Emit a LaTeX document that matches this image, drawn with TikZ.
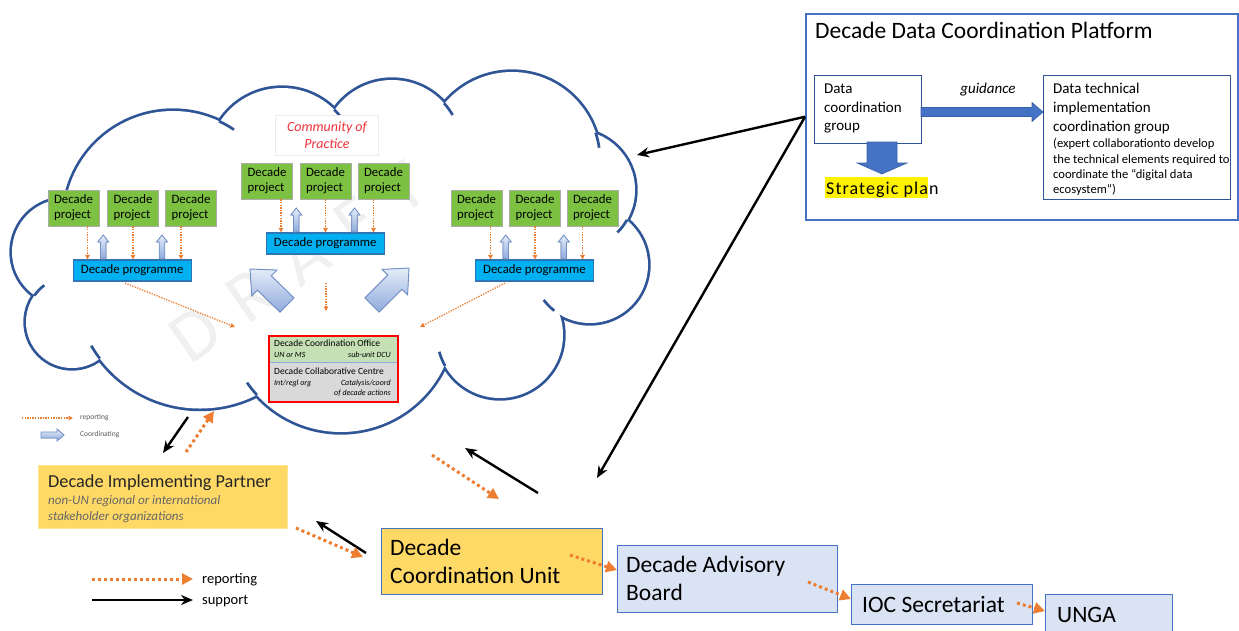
\documentclass[tikz,border=0pt]{standalone}
\usepackage{fontspec}
\setmainfont{Carlito}
\usetikzlibrary{arrows.meta,calc}
\definecolor{cloudblue}{HTML}{2F5597}
\definecolor{orng}{HTML}{ED7D31}
\definecolor{pgreen}{HTML}{7DC142}
\definecolor{pblue}{HTML}{00B0F0}
\definecolor{pblueedge}{HTML}{2E75B6}
\definecolor{gold}{HTML}{FFD966}
\definecolor{lblue}{HTML}{DAE3F3}
\definecolor{mblue}{HTML}{4472C4}
\definecolor{dcogreen}{HTML}{C5E0B4}
\definecolor{dcogrey}{HTML}{D9D9D9}
\definecolor{divblue}{HTML}{8EA9DB}
\definecolor{arrowfill}{HTML}{8FAADC}
\definecolor{arrowlight}{HTML}{E4ECF8}
\definecolor{arrowedge}{HTML}{6F8FC6}
\definecolor{copred}{HTML}{F0323A}
\newcommand\myfs[2]{\fontsize{#1}{#2}\selectfont}
% block arrow polygon from #1 to #2: shaft half width #3, head half width #4, head length #5, style #6
\newcommand\blockarr[6]{%
  \path let \p1=(#1), \p2=(#2) in \pgfextra{%
    \pgfmathsetmacro\baang{atan2(\y2-\y1,\x2-\x1)}%
    \pgfmathsetmacro\balen{veclen(\x2-\x1,\y2-\y1)}%
    \global\let\baangG\baang \global\let\balenG\balen};
  \begin{scope}[shift={(#1)},rotate=\baangG]
    \filldraw[#6] (0pt,-#3pt) -- ({\balenG pt-#5pt},-#3pt) -- ({\balenG pt-#5pt},-#4pt)
      -- (\balenG pt,0pt) -- ({\balenG pt-#5pt},#4pt) -- ({\balenG pt-#5pt},#3pt) -- (0pt,#3pt) -- cycle;
  \end{scope}}
% group of three projects and a programme
\newcommand\cgroup[6]{%
  \node[gbox] (#1a) at (#2,#5) {Decade\\project};
  \node[gbox] (#1b) at (#3,#5) {Decade\\project};
  \node[gbox] (#1c) at (#4,#5) {Decade\\project};
  \node[prog] (#1p) at ({(#2+#4)/2},#6) {Decade programme};
  \coordinate (#1d1) at ($(#1a.south)+(14,0)$);
  \coordinate (#1d2) at (#1b.south);
  \coordinate (#1d3) at ($(#1c.south)+(-10,0)$);
  \foreach \k in {1,2,3} {\draw[odots] (#1d\k) -- (#1d\k |- #1p.north);}
  \pgfmathsetmacro\gxA{(#2+#3)/2}\pgfmathsetmacro\gxB{(#3+#4)/2}%
  \pgfmathsetmacro\ybot{#6-11.5}\pgfmathsetmacro\ytop{#5+27}%
  \coordinate (#1u1s) at (\gxA,\ybot); \coordinate (#1u1e) at (\gxA,\ytop);
  \coordinate (#1u2s) at (\gxB,\ybot); \coordinate (#1u2e) at (\gxB,\ytop);
  \blockarr{#1u1s}{#1u1e}{2.8}{5.5}{7}{hollow}
  \blockarr{#1u2s}{#1u2e}{2.8}{5.5}{7}{hollow}
}
\begin{document}
\begin{tikzpicture}[x=1pt,y=-1pt,
  cloudline/.style={draw=cloudblue, line width=2.7pt},
  gbox/.style={draw=gray!65, line width=0.9pt, fill=pgreen, minimum width=51pt, minimum height=36pt, inner sep=0pt, align=left, font=\myfs{12.8}{14.8}},
  prog/.style={draw=pblueedge, line width=1.1pt, fill=pblue, minimum width=118pt, minimum height=21pt, inner sep=0pt, font=\myfs{12.8}{14}},
  odots/.style={draw=orng, line width=1.3pt, dash pattern=on 1.3pt off 1.3pt, -{Triangle[length=4.5pt,width=4.5pt]}},
  orep/.style={draw=orng, line width=3pt, dash pattern=on 3pt off 3pt, -{Triangle[length=11pt,width=11pt]}},
  sup/.style={draw=black, line width=2.4pt, -{Stealth[length=12pt,width=10pt]}},
  hollow/.style={draw=arrowedge, line width=0.8pt, top color=arrowlight, bottom color=arrowfill},
  bigarr/.style={draw=arrowedge, line width=0.9pt, top color=arrowlight, bottom color=arrowfill},
  lbox/.style={draw=mblue, line width=1.3pt, fill=lblue, anchor=north west, inner sep=0pt},
  bigtxt/.style={anchor=base west, font=\myfs{23.5}{27}, inner sep=0pt},
  dcotxt/.style={inner sep=0pt, font=\myfs{9.5}{11}},
  dcoit/.style={inner sep=0pt, font=\myfs{8}{10}\itshape},
  ]
\useasboundingbox (0,0) rectangle (1239,630);

% ---------- cloud ----------
\def\cloudlobes{65/252/53, 173/220/109, 282/162/74, 392/150/70, 512/160/88, 575/190/60, 590/265/58, 500/335/63, 341/318/114, 200/283/125.5, 72/322/46}
\foreach \cx/\cy/\r in \cloudlobes {\draw[cloudblue, line width=5.4pt] (\cx,\cy) circle[radius=\r];}
\foreach \cx/\cy/\r in \cloudlobes {\fill[white] (\cx,\cy) circle[radius=\r];}
\fill[white] (65,252) -- (173,220) -- (282,162) -- (392,150) -- (512,160) -- (575,190) -- (590,265) -- (500,335) -- (341,318) -- (200,283) -- (72,322) -- cycle;
\foreach \cx/\cy/\r/\a/\d in {65/252/53/271/16, 173/220/109/295/9, 282/162/74/315/12, 392/150/70/318/12, 512/160/88/342/10, 575/190/60/30/15, 590/265/58/128/15, 500/335/63/150.6/14, 341/318/114/137.5/8, 200/283/125.5/143/7, 72/322/46/215/18}
  {\draw[cloudline] ($(\cx,\cy)+(\a:\r)$) arc[start angle=\a, delta angle=\d, radius=\r];}

% watermark
\node[rotate=35, text=black!6, font={\myfs{72}{76}\addfontfeatures{LetterSpace=35}}] (draft) at (298,262) {DRAFT};

% ---------- cloud contents ----------
\node[draw=gray!15, fill=white, minimum width=103pt, minimum height=40pt, align=center, text=copred, font={\myfs{14}{16.5}\itshape}] (cop) at (327,135) {Community of\\Practice};
\cgroup{L}{73.5}{133}{191}{208}{270.5}
\cgroup{M}{267}{325.5}{383.5}{181}{243.5}
\cgroup{R}{476.5}{535}{592.5}{208}{270.5}

\coordinate (ba1s) at (287,305); \coordinate (ba1e) at (250,269);
\coordinate (ba2s) at (372,305); \coordinate (ba2e) at (409,268);
\blockarr{ba1s}{ba1e}{10}{18}{20}{bigarr}
\blockarr{ba2s}{ba2e}{10}{18}{20}{bigarr}

\coordinate (md1) at (326,283); \coordinate (md2) at (326,311);
\draw[odots] (md1) -- (md2);
\coordinate (ld1) at (125,283); \coordinate (ld2) at (235,327);
\draw[odots] (ld1) -- (ld2);
\coordinate (rd1) at (505,283); \coordinate (rd2) at (420,327);
\draw[odots] (rd1) -- (rd2);

% Decade coordination office
\node[fill=dcogreen, minimum width=129pt, minimum height=27pt, anchor=north west, inner sep=0pt] (dcoA) at (268,335) {};
\node[fill=dcogrey, minimum width=129pt, minimum height=39pt, anchor=north west, inner sep=0pt] (dcoB) at (268,362) {};
\draw[divblue, line width=0.9pt] (dcoA.south west) -- (dcoA.south east);
\node[draw=red, line width=1.8pt, minimum width=129pt, minimum height=66pt, anchor=north west, inner sep=0pt] (dco) at (268,335) {};
\node[dcotxt, anchor=base west] (dco1) at (274,346) {Decade Coordination Office};
\node[dcoit, anchor=base west] (dco2) at (274,357) {UN or MS};
\node[dcoit, anchor=base east] (dco3) at (391,357) {sub-unit DCU};
\node[dcotxt, anchor=base west] (dco4) at (274,374) {Decade Collaborative Centre};
\node[dcoit, anchor=base west] (dco5) at (274,385) {Int/regl org};
\node[dcoit, anchor=base east] (dco6) at (391,385) {Catalysis/coord};
\node[dcoit, anchor=base east] (dco7) at (391,395) {of decade actions};

% small legend
\coordinate (lg1a) at (22,418); \coordinate (lg1b) at (73,418);
\draw[odots] (lg1a) -- (lg1b);
\node[anchor=west, inner sep=0pt, text=black!65, font=\myfs{7.5}{9}] (lgt1) at (80,418) {reporting};
\coordinate (lg2a) at (41,435); \coordinate (lg2b) at (64,435);
\blockarr{lg2a}{lg2b}{3}{6}{7}{hollow}
\node[anchor=west, inner sep=0pt, text=black!65, font=\myfs{7.5}{9}] (lgt2) at (80,435) {Coordinating};

% ---------- Decade Implementing Partner ----------
\node[fill=gold, draw=gold!70, minimum width=249pt, minimum height=63pt, anchor=north west, inner sep=0pt] (dip) at (38,465) {};
\node[anchor=base west, inner sep=0pt, text=black!85, font=\myfs{18.3}{21}] (dipt) at (48,487) {Decade Implementing Partner};
\node[anchor=base west, inner sep=0pt, text=black!60, font={\myfs{13}{16}\itshape}] (dip1) at (48,504) {non-UN regional or international};
\node[anchor=base west, inner sep=0pt, text=black!60, font={\myfs{13}{16}\itshape}] (dip2) at (48,520) {stakeholder organizations};

% ---------- bottom chain ----------
\node[lbox, fill=gold, minimum width=221pt, minimum height=66pt] (dcu) at (381,528) {};
\node[bigtxt] (dcu1) at (390,555) {Decade};
\node[bigtxt] (dcu2) at (390,583) {Coordination Unit};
\node[lbox, minimum width=220pt, minimum height=67pt] (dab) at (617,545) {};
\node[bigtxt] (dab1) at (626,572) {Decade Advisory};
\node[bigtxt] (dab2) at (626,600) {Board};
\node[lbox, minimum width=181pt, minimum height=40pt] (ioc) at (851,584) {};
\node[bigtxt] (ioc1) at (862,612) {IOC Secretariat};
\node[lbox, minimum width=127pt, minimum height=40pt] (unga) at (1045,594) {};
\node[bigtxt] (unga1) at (1057,622) {UNGA};

% bottom legend
\coordinate (bl1a) at (92,579); \coordinate (bl1b) at (193,579);
\draw[orep] (bl1a) -- (bl1b);
\node[anchor=west, inner sep=0pt, font=\myfs{14.5}{17}] (blt1) at (202,580) {reporting};
\coordinate (bl2a) at (92,600); \coordinate (bl2b) at (193,600);
\draw[sup] (bl2a) -- (bl2b);
\node[anchor=west, inner sep=0pt, font=\myfs{14.5}{17}] (blt2) at (202,601) {support};

% ---------- Decade Data Coordination Platform ----------
\node[draw=mblue, line width=1.5pt, minimum width=432pt, minimum height=206pt, anchor=north west, inner sep=0pt] (ddcp) at (805,13) {};
\node[anchor=base west, inner sep=0pt, font=\myfs{23.5}{27}] (ddcpt) at (815,38) {Decade Data Coordination Platform};
\node[draw=cloudblue, line width=1.4pt, minimum width=107pt, minimum height=68pt, anchor=north west, inner sep=0pt] (dcg) at (814,75) {};
\foreach \t/\yy [count=\i] in {{Data}/93, {coordination}/112, {group}/130}
  {\node[anchor=base west, inner sep=0pt, font=\myfs{15}{18}] (dcg\i) at (824,\yy) {\t};}
\node[draw=cloudblue, line width=1.4pt, minimum width=187pt, minimum height=124pt, anchor=north west, inner sep=0pt] (dtg) at (1043,75) {};
\foreach \t/\yy [count=\i] in {{Data technical}/93, {implementation}/112, {coordination group}/131}
  {\node[anchor=base west, inner sep=0pt, font=\myfs{15}{18}] (dtg\i) at (1053,\yy) {\t};}
\node[anchor=base west, inner sep=0pt, font=\myfs{12.6}{14}] (dts1) at (1053,147) {(expert collaborationto develop};
\node[anchor=base west, inner sep=0pt, font=\myfs{12.6}{14}] (dts2) at (1053,163) {the technical elements required to};
\node[anchor=base west, inner sep=0pt, font=\myfs{12.6}{14}] (dts3) at (1053,178) {coordinate the “digital data};
\node[anchor=base west, inner sep=0pt, font=\myfs{12.6}{14}] (dts4) at (1053,193) {ecosystem”)};
\coordinate (gs) at (921,112); \coordinate (ge) at (1043,112);
\blockarr{gs}{ge}{4.5}{9.5}{11}{fill=mblue, draw=mblue!85!black, line width=0.6pt}
\node[anchor=base, inner sep=0pt, font={\myfs{15}{18}\itshape}] (guid) at (988,93) {guidance};
\coordinate (sps) at (882,142); \coordinate (spe) at (882,174);
\blockarr{sps}{spe}{15}{25}{11}{fill=mblue, draw=mblue!85!black, line width=0.6pt}
\node[fill=yellow, minimum width=103pt, minimum height=21pt, anchor=north west, inner sep=0pt] (sphl) at (825,177) {};
\node[anchor=base west, inner sep=0pt, font={\myfs{18}{21}\addfontfeatures{LetterSpace=6}}] (sp) at (826,194) {Strategic plan};

% ---------- connectors ----------
\coordinate (cr) at (637,155);
\draw[sup] (ddcp.west) -- (cr);
\coordinate (dcuin) at (597,478);
\draw[sup] (ddcp.west) -- (dcuin);
\coordinate (s3a) at (188,417); \coordinate (s3b) at (163,453);
\draw[sup] (s3a) -- (s3b);
\coordinate (s4a) at (538,493); \coordinate (s4b) at (465,448);
\draw[sup] (s4a) -- (s4b);
\coordinate (s5a) at (366,553); \coordinate (s5b) at (316,521);
\draw[sup] (s5a) -- (s5b);

\coordinate (r1a) at (186,452); \coordinate (r1b) at (214,411);
\draw[orep] (r1a) -- (r1b);
\coordinate (r2a) at (432,455); \coordinate (r2b) at (499,499);
\draw[orep] (r2a) -- (r2b);
\coordinate (r3a) at (296,528); \coordinate (r3b) at (363,557);
\draw[orep] (r3a) -- (r3b);
\coordinate (r4a) at (570,555);
\draw[orep] (r4a) -- (dab.west |- 0,570);
\coordinate (r5a) at (808,582);
\draw[orep] (r5a) -- (ioc.west |- 0,599);
\coordinate (r6a) at (1017,603);
\draw[orep] (r6a) -- (unga.west |- 0,611);
\end{tikzpicture}
\end{document}
